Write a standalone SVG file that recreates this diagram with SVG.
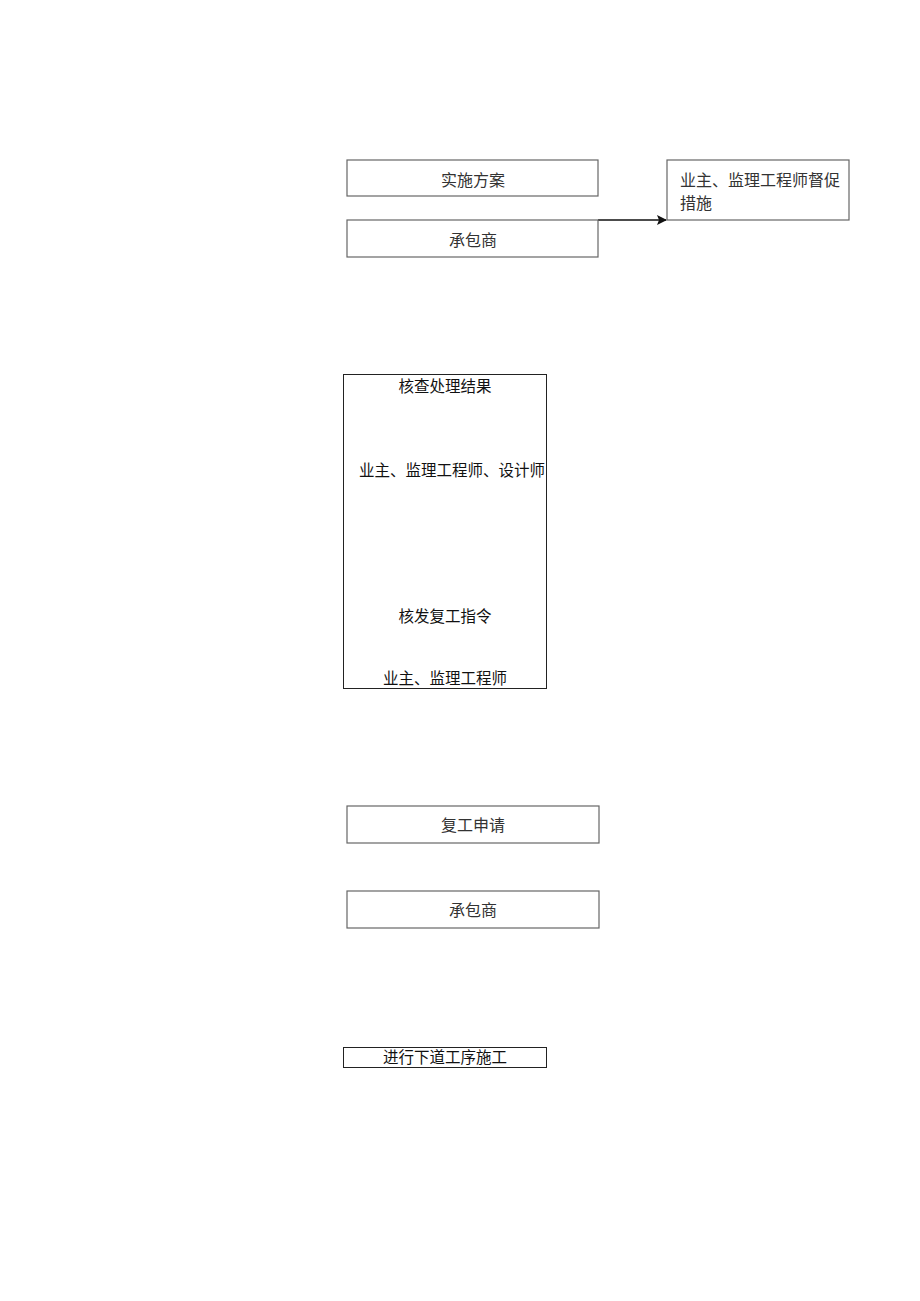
<svg xmlns="http://www.w3.org/2000/svg" width="920" height="1301" viewBox="0 0 920 1301">
<style>
.bx{fill:#fff;stroke:#666;stroke-width:1.2}
.bk{fill:#fff;stroke:#222;stroke-width:1}
text{font-family:"Liberation Serif","Noto Sans CJK SC",serif;font-size:16px;fill:#333}
.t2{font-size:15.5px;fill:#111}
.c{text-anchor:middle}
</style>
<defs>
<marker id="ah" viewBox="0 0 10 10" refX="9" refY="5" markerWidth="11" markerHeight="10" orient="auto" markerUnits="userSpaceOnUse">
<path d="M0,0 L10,5 L0,10 L2,5 z" fill="#111"/>
</marker>
</defs>
<rect width="920" height="1301" fill="#fff"/>
<g id="connectors">
<line x1="598" y1="220" x2="666" y2="220" stroke="#111" stroke-width="1.5" marker-end="url(#ah)"/>
</g>
<g id="n1"><rect class="bx" x="347" y="160" width="251" height="36"/><text class="c" x="473" y="186">实施方案</text></g>
<g id="n2"><rect class="bx" x="347" y="220" width="251" height="37"/><text class="c" x="473" y="246">承包商</text></g>
<g id="n3"><rect class="bx" x="667" y="160" width="182" height="60"/><text x="680" y="186">业主、监理工程师督促</text><text x="680" y="209">措施</text></g>
<g id="n4"><rect class="bk" x="343.5" y="374.5" width="203" height="314"/>
<text class="c t2" x="445" y="392">核查处理结果</text>
<text class="t2" x="359" y="476">业主、监理工程师、设计师</text>
<text class="c t2" x="445" y="622">核发复工指令</text>
<text class="c t2" x="445" y="684">业主、监理工程师</text></g>
<g id="n5"><rect class="bx" x="347" y="806" width="252" height="37"/><text class="c" x="473" y="831">复工申请</text></g>
<g id="n6"><rect class="bx" x="347" y="891" width="252" height="37"/><text class="c" x="473" y="916">承包商</text></g>
<g id="n7"><rect class="bk" x="343.5" y="1047.5" width="203" height="20"/><text class="c t2" x="445" y="1063">进行下道工序施工</text></g>
</svg>
